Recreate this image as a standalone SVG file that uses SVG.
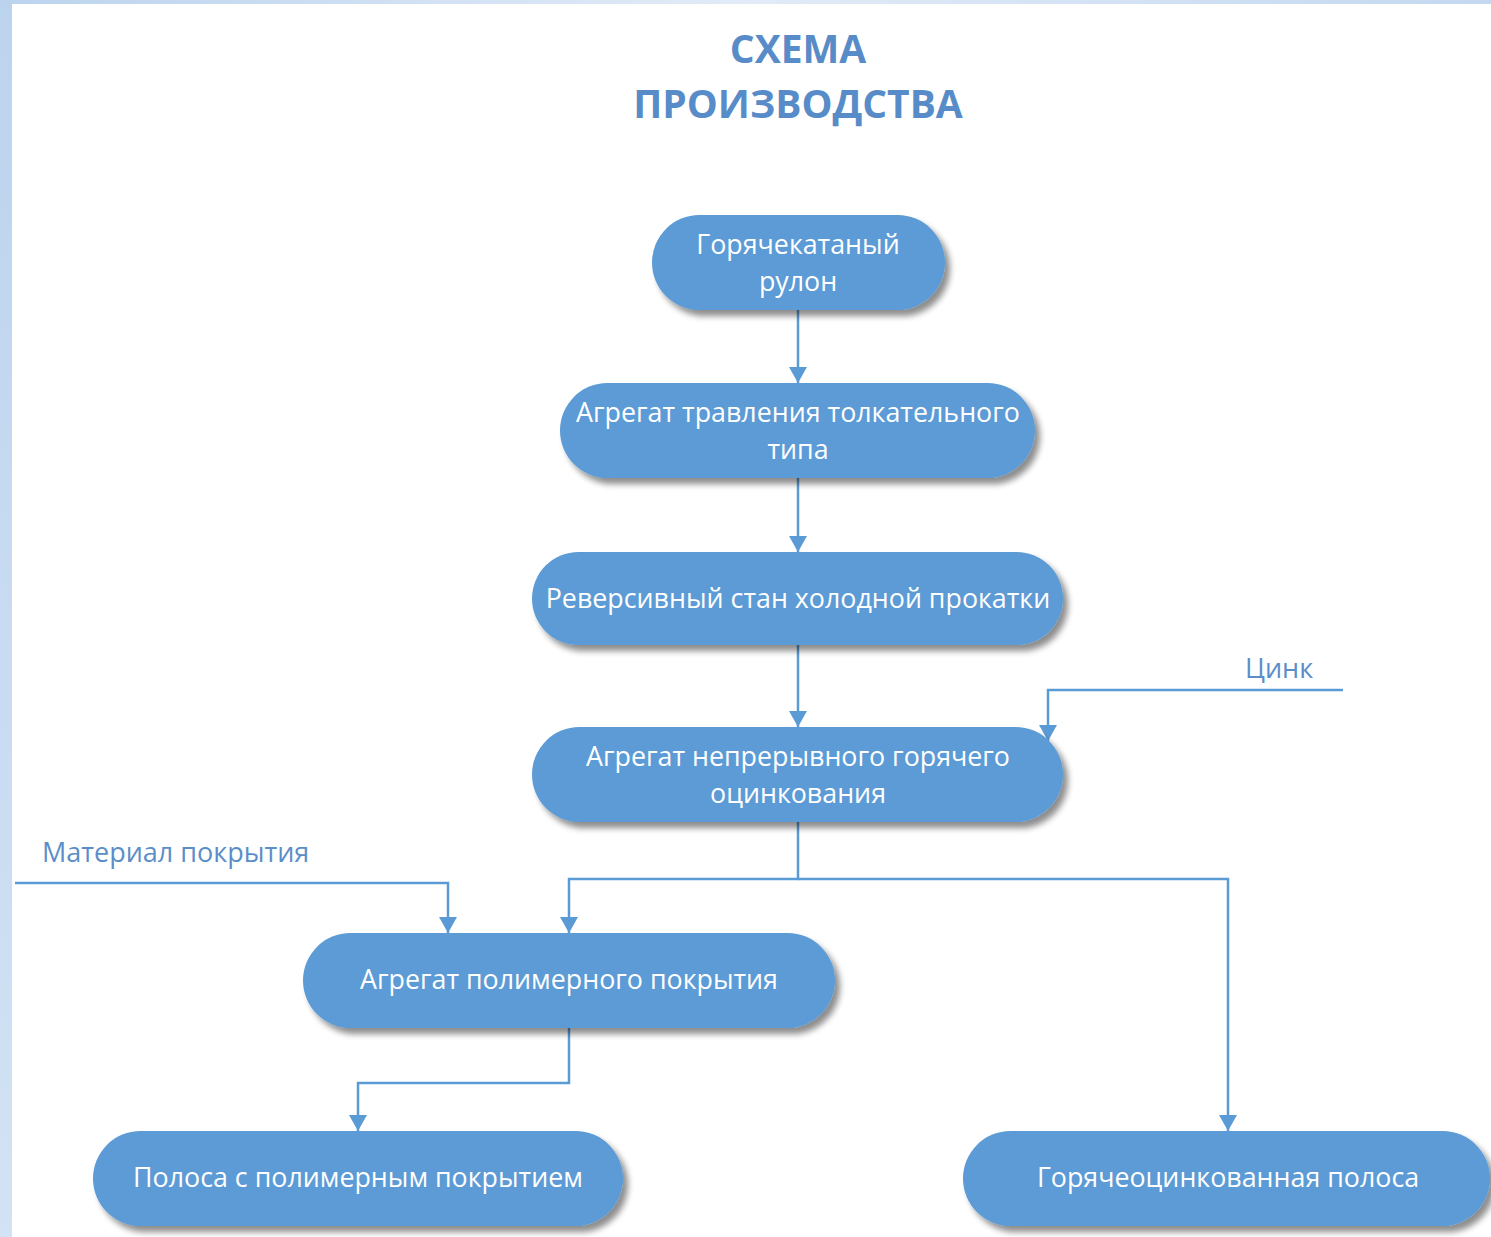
<svg xmlns="http://www.w3.org/2000/svg" width="1491" height="1237" viewBox="0 0 1491 1237">
<defs>
<linearGradient id="topg" x1="0" y1="0" x2="1" y2="0">
<stop offset="0" stop-color="#bcd3ee"/>
<stop offset="0.5" stop-color="#e2ebf7"/>
<stop offset="1" stop-color="#c4d8f0"/>
</linearGradient>
<linearGradient id="leftg" x1="0" y1="0" x2="0" y2="1">
<stop offset="0" stop-color="#bcd3ee"/>
<stop offset="1" stop-color="#d3e2f4"/>
</linearGradient>
<filter id="sh" x="-10%" y="-20%" width="125%" height="150%">
<feGaussianBlur in="SourceAlpha" stdDeviation="3"/>
<feOffset dx="5" dy="6" result="b"/>
<feComponentTransfer><feFuncA type="linear" slope="0.45"/></feComponentTransfer>
<feMerge><feMergeNode/><feMergeNode in="SourceGraphic"/></feMerge>
</filter>
<marker id="ah" viewBox="0 0 16 18" refX="16" refY="9" markerWidth="16" markerHeight="18" markerUnits="userSpaceOnUse" orient="auto">
<path d="M0,0 L16,9 L0,18 z" fill="#5b9bd5"/>
</marker>
</defs>
<style>
.node{fill:#5b9bd5;filter:url(#sh)}
.nt{font-family:"Open Sans","DejaVu Sans",sans-serif;font-size:26.8px;fill:#ffffff;text-anchor:middle}
.lbl{font-family:"Open Sans","DejaVu Sans",sans-serif;font-size:27px;fill:#5b8ec9}
.title{font-family:"Open Sans","DejaVu Sans",sans-serif;font-size:39px;font-weight:bold;fill:#588cc8;text-anchor:middle}
.c{fill:none;stroke:#5b9bd5;stroke-width:2.5}
</style>
<rect width="1491" height="1237" fill="#ffffff"/>
<rect x="0" y="0" width="1491" height="4" fill="url(#topg)"/>
<rect x="0" y="0" width="12" height="1237" fill="url(#leftg)"/>
<text class="title" x="798" y="63">СХЕМА</text>
<text class="title" x="798" y="118">ПРОИЗВОДСТВА</text>
<g id="connectors">
<path class="c" d="M798,310 V383" marker-end="url(#ah)"/>
<path class="c" d="M798,478 V552" marker-end="url(#ah)"/>
<path class="c" d="M798,645 V727" marker-end="url(#ah)"/>
<path class="c" d="M1343,690 H1048 V741" marker-end="url(#ah)"/>
<path class="c" d="M798,822 V879 H569 V933" marker-end="url(#ah)"/>
<path class="c" d="M798,879 H1228 V1131" marker-end="url(#ah)"/>
<path class="c" d="M15,883 H448 V933" marker-end="url(#ah)"/>
<path class="c" d="M569,1028 V1083 H358 V1131" marker-end="url(#ah)"/>
</g>
<g id="label-zinc"><text class="lbl" x="1245" y="678">Цинк</text></g>
<g id="label-material"><text class="lbl" x="42" y="862">Материал покрытия</text></g>
<g id="n1"><rect class="node" x="652" y="215" width="293" height="95" rx="47.5"/>
<text class="nt" x="798" y="254">Горячекатаный</text><text class="nt" x="798" y="291">рулон</text></g>
<g id="n2"><rect class="node" x="560" y="383" width="475" height="95" rx="47.5"/>
<text class="nt" x="798" y="422">Агрегат травления толкательного</text><text class="nt" x="798" y="459">типа</text></g>
<g id="n3"><rect class="node" x="532" y="552" width="531" height="93" rx="46.5"/>
<text class="nt" x="798" y="608">Реверсивный стан холодной прокатки</text></g>
<g id="n4"><rect class="node" x="532" y="727" width="531" height="95" rx="47.5"/>
<text class="nt" x="798" y="766">Агрегат непрерывного горячего</text><text class="nt" x="798" y="803">оцинкования</text></g>
<g id="n5"><rect class="node" x="303" y="933" width="532" height="95" rx="47.5"/>
<text class="nt" x="569" y="989">Агрегат полимерного покрытия</text></g>
<g id="n6"><rect class="node" x="93" y="1131" width="530" height="95" rx="47.5"/>
<text class="nt" x="358" y="1187">Полоса с полимерным покрытием</text></g>
<g id="n7"><rect class="node" x="963" y="1131" width="527" height="95" rx="47.5"/>
<text class="nt" x="1228" y="1187">Горячеоцинкованная полоса</text></g>
</svg>
